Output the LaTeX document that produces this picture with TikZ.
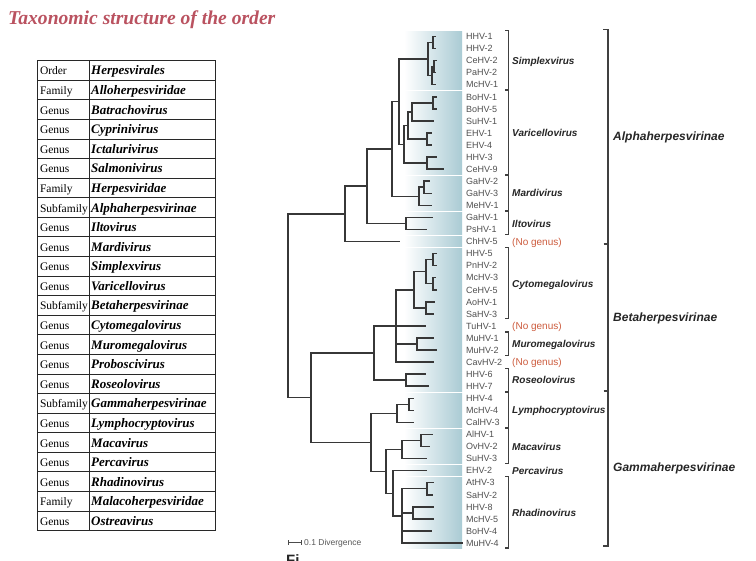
\documentclass[tikz,border=0pt]{standalone}
\usepackage{fontspec}
\setmainfont{Liberation Serif}
\newfontfamily\arialf{Liberation Sans}
\definecolor{titlered}{RGB}{186,82,96}
\definecolor{bandteal}{RGB}{170,203,212}
\definecolor{leafgray}{RGB}{80,80,80}
\definecolor{treegray}{RGB}{55,55,55}
\definecolor{nogenus}{RGB}{205,92,62}
\definecolor{tabline}{RGB}{40,40,40}
\newcommand\ry[1]{(36.5+12.06*(#1))}
\newcommand\clade[3]{\draw[tree] (#1) |- (#2) (#1) |- (#3);}
\begin{document}
\begin{tikzpicture}[x=1pt,y=-1pt,
  tree/.style={draw=treegray, line width=1.5pt},
  leaf/.style={anchor=west, inner sep=0pt, text height=6.5pt, text depth=0pt, font=\arialf\fontsize{9}{9}\selectfont, text=leafgray},
  genus/.style={anchor=west, inner sep=0pt, text height=7.2pt, text depth=0pt, font=\arialf\bfseries\itshape\fontsize{10}{10}\selectfont, text=black!85},
  nog/.style={anchor=west, inner sep=0pt, text height=7.2pt, text depth=0pt, font=\arialf\fontsize{10}{10}\selectfont, text=nogenus},
  subf/.style={anchor=west, inner sep=0pt, text height=8.6pt, text depth=0pt, font=\arialf\bfseries\itshape\fontsize{12}{12}\selectfont, text=black!85},
  gbr/.style={draw=black!75, line width=1.1pt},
  sbr/.style={draw=black!75, line width=1.2pt},
  tabl/.style={draw=tabline, line width=0.9pt},
  tabk/.style={anchor=base west, inner sep=0pt, font=\fontsize{11.5}{11.5}\selectfont},
  tabv/.style={anchor=base west, inner sep=0pt, font=\bfseries\itshape\fontsize{13}{13}\selectfont},
  band/.style={left color=white, right color=bandteal}]
\useasboundingbox (0,0) rectangle (756,561);
\fill[white] (0,0) rectangle (756,561);

% title
\node[anchor=base west, inner sep=0pt, font=\bfseries\itshape\fontsize{19.6}{19.6}\selectfont, text=titlered] (title) at (8,25) {Taxonomic structure of the order};

% table
\draw[tabl] (37.3,60.7) rectangle (215,530.7);
\draw[tabl] (89.3,60.7) -- (89.3,530.7);
\foreach \k/\v [count=\i from 0] in {Order/Herpesvirales, Family/Alloherpesviridae, Genus/Batrachovirus, Genus/Cyprinivirus, Genus/Ictalurivirus, Genus/Salmonivirus, Family/Herpesviridae, Subfamily/Alphaherpesvirinae, Genus/Iltovirus, Genus/Mardivirus, Genus/Simplexvirus, Genus/Varicellovirus, Subfamily/Betaherpesvirinae, Genus/Cytomegalovirus, Genus/Muromegalovirus, Genus/Proboscivirus, Genus/Roseolovirus, Subfamily/Gammaherpesvirinae, Genus/Lymphocryptovirus, Genus/Macavirus, Genus/Percavirus, Genus/Rhadinovirus, Family/Malacoherpesviridae, Genus/Ostreavirus}{
  \node[tabk] (k\i) at (39.8,{60.7+19.58*\i+14.3}) {\k};
  \node[tabv] (v\i) at (91,{60.7+19.58*\i+14.3}) {\v};
  \ifnum\i>0 \draw[tabl] (37.3,{60.7+19.58*\i}) -- (215,{60.7+19.58*\i}); \fi
}

% shaded bands
\foreach \a/\b in {0/4,5/11,12/14,15/16,17/17,18/23,24/24,25/26,27/27,28/29,30/32,33/35,36/36,37/42}
  \shade[band] (404,{\ry{\a}-5.2}) rectangle (462,{\ry{\b}+5.2});

% leaves
\foreach \nm/\tx [count=\i from 0] in {HHV-1/436, HHV-2/436, CeHV-2/437, PaHV-2/436, McHV-1/436, BoHV-1/437, BoHV-5/437, SuHV-1/434, EHV-1/432, EHV-4/432, HHV-3/437, CeHV-9/444, GaHV-2/430, GaHV-3/432, MeHV-1/432, GaHV-1/433, PsHV-1/427, ChHV-5/400, HHV-5/437, PnHV-2/437, McHV-3/436, CeHV-5/437, AoHV-1/435, SaHV-3/434, TuHV-1/426, MuHV-1/434, MuHV-2/437, CavHV-2/434, HHV-6/426, HHV-7/429, HHV-4/414, McHV-4/414, CalHV-3/414, AlHV-1/433, OvHV-2/430, SuHV-3/427, EHV-2/427, AtHV-3/434, SaHV-2/433, HHV-8/434, McHV-5/434, BoHV-4/432, MuHV-4/463}{
  \coordinate (t\i) at (\tx,{\ry{\i}});
  \node[leaf] (l\i) at (466,{\ry{\i}}) {\nm};
}

% internal nodes
\coordinate (s12) at (433,{\ry{0.5}});
\coordinate (s34) at (434,{\ry{2.5}});
\coordinate (s345) at (432,{\ry{3.25}});
\coordinate (S) at (428,{\ry{1.875}});
\coordinate (bo) at (433,{\ry{5.5}});
\coordinate (bs) at (412,{\ry{6.25}});
\coordinate (eh) at (427,{\ry{8.5}});
\coordinate (v1) at (408,{\ry{7.375}});
\coordinate (hc) at (427,{\ry{10.5}});
\coordinate (V) at (404,{\ry{8.9375}});
\coordinate (a3) at (399,{\ry{5.40625}});
\coordinate (g23) at (424,{\ry{12.5}});
\coordinate (M) at (419,{\ry{13.25}});
\coordinate (a2) at (392,{\ry{9.328125}});
\coordinate (I) at (406,{\ry{15.5}});
\coordinate (a1) at (367,{\ry{12.4140625}});
\coordinate (A) at (345,{\ry{14.70703125}});
\coordinate (c12) at (433,{\ry{18.5}});
\coordinate (c34) at (433,{\ry{20.5}});
\coordinate (cu) at (426,{\ry{19.5}});
\coordinate (c56) at (426,{\ry{22.5}});
\coordinate (C) at (414,{\ry{21}});
\coordinate (Mu) at (417,{\ry{25.5}});
\coordinate (b1) at (396,{\ry{24}});
\coordinate (R) at (406,{\ry{28.5}});
\coordinate (B) at (374,{\ry{26.25}});
\coordinate (l12) at (409,{\ry{30.5}});
\coordinate (L) at (397,{\ry{31.25}});
\coordinate (m12) at (421,{\ry{33.5}});
\coordinate (Ma) at (402,{\ry{34.25}});
\coordinate (r12) at (427,{\ry{37.5}});
\coordinate (r34) at (413,{\ry{39.5}});
\coordinate (Rh) at (402,{\ry{39.75}});
\coordinate (g2) at (393,{\ry{37.875}});
\coordinate (g1) at (386,{\ry{36.0625}});
\coordinate (G) at (371,{\ry{33.65625}});
\coordinate (BG) at (311,{\ry{29.953125}});
\coordinate (root) at (288,{\ry{22.330078}});

% tree edges
\clade{s12}{t0}{t1}
\clade{s34}{t2}{t3}
\clade{s345}{s34}{t4}
\clade{S}{s12}{s345}
\clade{bo}{t5}{t6}
\clade{bs}{bo}{t7}
\clade{eh}{t8}{t9}
\clade{v1}{bs}{eh}
\clade{hc}{t10}{t11}
\clade{V}{v1}{hc}
\clade{a3}{S}{V}
\clade{g23}{t12}{t13}
\clade{M}{g23}{t14}
\clade{a2}{a3}{M}
\clade{I}{t15}{t16}
\clade{a1}{a2}{I}
\clade{A}{a1}{t17}
\clade{c12}{t18}{t19}
\clade{c34}{t20}{t21}
\clade{cu}{c12}{c34}
\clade{c56}{t22}{t23}
\clade{C}{cu}{c56}
\clade{Mu}{t25}{t26}
\clade{b1}{C}{t27}
\clade{b1}{t24}{Mu}
\clade{R}{t28}{t29}
\clade{B}{b1}{R}
\clade{l12}{t30}{t31}
\clade{L}{l12}{t32}
\clade{m12}{t33}{t34}
\clade{Ma}{m12}{t35}
\clade{r12}{t37}{t38}
\clade{r34}{t39}{t40}
\clade{Rh}{r12}{t42}
\clade{Rh}{r34}{t41}
\clade{g2}{t36}{Rh}
\clade{g1}{Ma}{g2}
\clade{G}{L}{g1}
\clade{BG}{B}{G}
\clade{root}{A}{BG}

% genus brackets
\foreach \a/\b in {0/4,5/11,12/14,15/16,18/23,25/26,28/29,30/32,33/35,37/42}
  \draw[gbr] (505,{\ry{\a}-6}) -- (508.5,{\ry{\a}-6}) -- (508.5,{\ry{\b}+5}) -- (505,{\ry{\b}+5});

% genus labels
\node[genus] (gS) at (512,{\ry{2}}) {Simplexvirus};
\node[genus] (gV) at (512,{\ry{8}}) {Varicellovirus};
\node[genus] (gM) at (512,{\ry{13}}) {Mardivirus};
\node[genus] (gI) at (512,{\ry{15.5}}) {Iltovirus};
\node[nog] (n1) at (512,{\ry{17}}) {(No genus)};
\node[genus] (gC) at (512,{\ry{20.5}}) {Cytomegalovirus};
\node[nog] (n2) at (512,{\ry{24}}) {(No genus)};
\node[genus] (gMu) at (512,{\ry{25.5}}) {Muromegalovirus};
\node[nog] (n3) at (512,{\ry{27}}) {(No genus)};
\node[genus] (gR) at (512,{\ry{28.5}}) {Roseolovirus};
\node[genus] (gL) at (512,{\ry{31}}) {Lymphocryptovirus};
\node[genus] (gMa) at (512,{\ry{34}}) {Macavirus};
\node[genus] (gP) at (512,{\ry{36}}) {Percavirus};
\node[genus] (gRh) at (512,{\ry{39.5}}) {Rhadinovirus};

% subfamily bracket
\draw[sbr] (603,29.5) -- (608,29.5) -- (608,546) -- (603,546);
\draw[sbr] (603.5,244) -- (608,244);
\draw[sbr] (603.5,391) -- (608,391);
\node[subf] (sa) at (613,136) {Alphaherpesvirinae};
\node[subf] (sb) at (613,317) {Betaherpesvirinae};
\node[subf] (sg) at (613,467) {Gammaherpesvirinae};

% scale bar
\coordinate (sb1) at (288,543);
\coordinate (sb2) at (301,543);
\draw[draw=black!70, line width=1pt] (sb1) -- (sb2);
\draw[draw=black!70, line width=0.8pt] (288,540.5) -- (288,545.5) (301,540.5) -- (301,545.5);
\node[anchor=west, inner sep=0pt, text height=6pt, text depth=0pt, font=\arialf\fontsize{8.5}{8.5}\selectfont, text=black!65] (sbt) at (304,543) {0.1 Divergence};

% cut-off caption
\node[anchor=north west, inner sep=0pt, font=\arialf\bfseries\fontsize{15}{15}\selectfont, text=black!85] (fig) at (286,554) {Fi};
\end{tikzpicture}
\end{document}
